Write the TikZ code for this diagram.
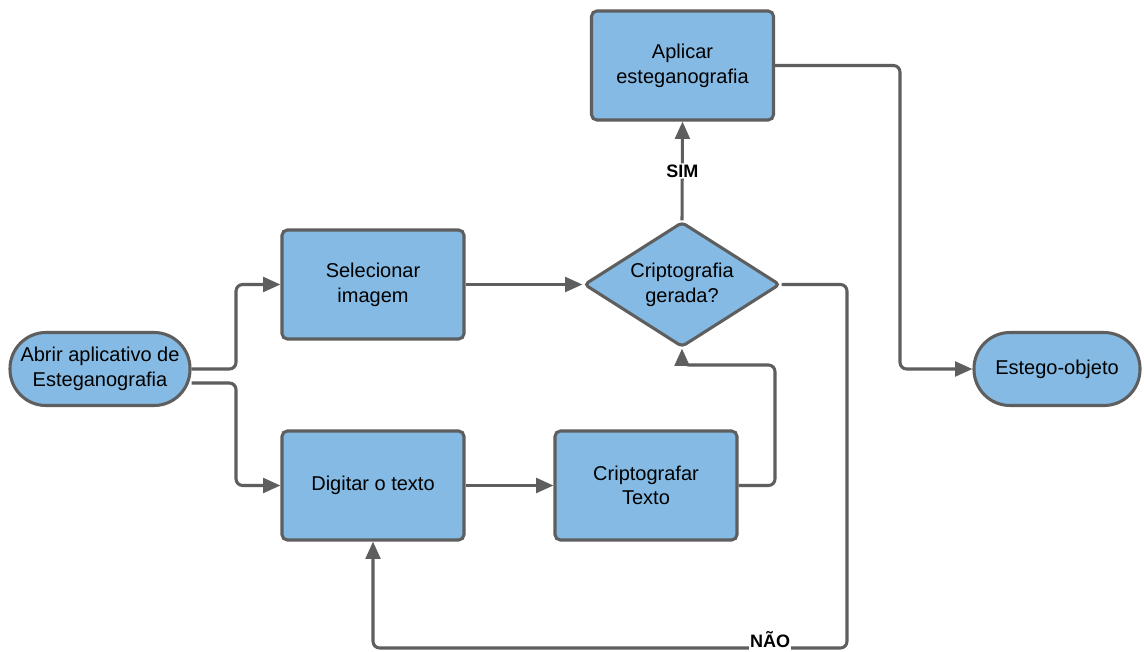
\documentclass[tikz,border=0pt]{standalone}
\usepackage{fontspec}
\setmainfont{Liberation Sans}
\usetikzlibrary{arrows.meta,shapes.geometric}
\definecolor{boxfill}{HTML}{84BAE3}
\definecolor{edge}{HTML}{5E5E5E}
\begin{document}
\begin{tikzpicture}[x=0.75pt,y=-0.75pt,
  every node/.style={font=\fontsize{15}{18.5}\selectfont, align=center, text=black},
  stepbox/.style={draw=edge, line width=2.3pt, fill=boxfill, rounded corners=4pt,
    minimum width=136.5pt, minimum height=81.75pt, inner sep=0pt},
  terminal/.style={draw=edge, line width=2.3pt, fill=boxfill, rounded corners=27pt,
    minimum height=54.75pt, inner sep=0pt},
  decision/.style={draw=edge, line width=2.3pt, fill=boxfill, diamond, aspect=1.568,
    rounded corners=3pt, minimum width=147pt, minimum height=93.75pt, inner sep=0pt},
  link/.style={draw=edge, line width=2.3pt, rounded corners=5pt,
    -{Triangle[length=13pt,width=11pt]}},
  tag/.style={font=\fontsize{13.5}{15}\selectfont\bfseries, fill=white, inner sep=1pt}
]
\useasboundingbox[fill=white] (0,0) rectangle (1144,652);

% nodes
\node[terminal, minimum width=135pt] (start) at (100,369) {Abrir aplicativo de\\Esteganografia};
\node[stepbox] (select) at (373,284.5) {Selecionar\\imagem};
\node[stepbox] (type) at (373,485.5) {Digitar o texto};
\node[stepbox] (encrypt) at (646,485.5) {Criptografar\\Texto};
\node[decision] (check) at (682,284.5) {Criptografia\\gerada?};
\node[stepbox] (apply) at (682.5,65.5) {Aplicar\\esteganografia};
\node[terminal, minimum width=124.5pt] (result) at (1057,369) {Estego-objeto};

% helper points for the routed connectors
\coordinate (s1) at (236,369);
\coordinate (s2) at (236,383);
\coordinate (e1) at (775,485.5);
\coordinate (e2) at (775,365);
\coordinate (n1) at (847,284.5);
\coordinate (n2) at (847,648);
\coordinate (n3) at (373,648);
\coordinate (a1) at (900,65.5);
\coordinate (a2) at (900,369);

% connectors
\draw[link] (start.east |- s1) -- (s1) |- (select.west);
\draw[link] (start.east |- s2) -- (s2) |- (type.west);
\draw[link] (select.east) -- (check.west);
\draw[link] (type.east) -- (encrypt.west);
\draw[link] (encrypt.east) -- (e1) -- (e2) -| (check.south);
\draw[link] (check.north) -- node[tag, pos=0.5] (yes) {SIM} (apply.south);
\draw[link] (check.east) -- (n1) -- (n2) -- (n3) -- (type.south);
\node[tag, anchor=base, inner sep=0.5pt, text depth=3pt] (no) at (770,647) {NÃO};
\draw[link] (apply.east) -- (a1) -- (a2) -- (result.west);
\end{tikzpicture}
\end{document}
